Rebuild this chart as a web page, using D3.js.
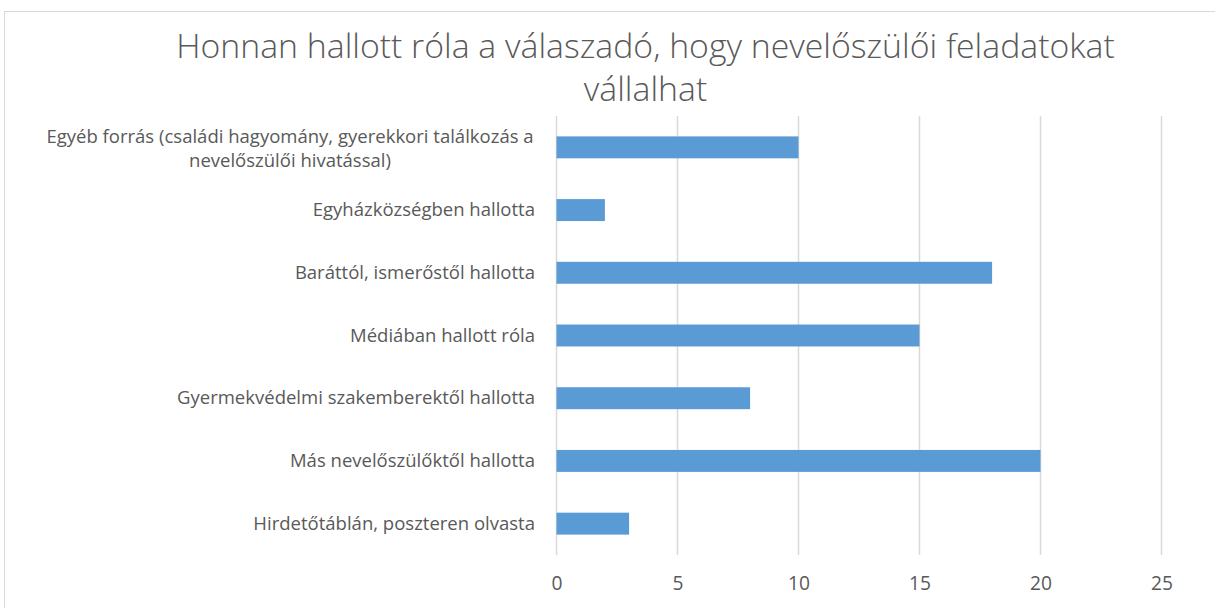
<!DOCTYPE html>
<html><head><meta charset="utf-8">
<script src="https://cdn.jsdelivr.net/npm/d3@7"></script>
<style>body{margin:0;background:#fff;} text{font-family:"Open Sans",sans-serif;fill:#595959;}</style>
</head><body>
<svg id="c" width="1215" height="608"></svg>
<script>
const categories = [
  ["Egyéb forrás (családi hagyomány, gyerekkori találkozás a", "nevelőszülői hivatással)"],
  ["Egyházközségben hallotta"],
  ["Baráttól, ismerőstől hallotta"],
  ["Médiában hallott róla"],
  ["Gyermekvédelmi szakemberektől hallotta"],
  ["Más nevelőszülőktől hallotta"],
  ["Hirdetőtáblán, poszteren olvasta"]
];
const values = [10, 2, 18, 15, 8, 20, 3];
const xTicks = [0, 5, 10, 15, 20, 25];
const titleLines = ["Honnan hallott róla a válaszadó, hogy nevelőszülői feladatokat", "vállalhat"];

const svg = d3.select("#c");
svg.append("rect").attr("x",4.5).attr("y",11.5).attr("width",1250).attr("height",700)
  .attr("fill","#fff").attr("stroke","#d9d9d9");

const x = d3.scaleLinear().domain([0,25]).range([556.5,1161.5]);
const y = d3.scaleBand().domain(d3.range(categories.length)).range([116,555]).paddingInner(0.65).paddingOuter(0.325);

// fit font size to a target width
function fitSize(str, target, weight){
  const t = svg.append("text").attr("font-size",20).attr("font-weight",weight||400).text(str);
  const w = t.node().getComputedTextLength(); t.remove();
  return 20*target/w;
}
const labSize = fitSize("Hirdetőtáblán, poszteren olvasta", 282);
const titleSize = fitSize(titleLines[0], 939, 300);
const tickSize = fitSize("25", 22);

svg.append("g").selectAll("line").data(xTicks).join("line")
  .attr("x1",d=>x(d)).attr("x2",d=>x(d)).attr("y1",116).attr("y2",555)
  .attr("stroke","#d9d9d9").attr("stroke-width",1.5);

svg.append("g").selectAll("rect").data(values).join("rect")
  .attr("x",x(0)).attr("y",(d,i)=>y(i)).attr("width",d=>x(d)-x(0)).attr("height",y.bandwidth())
  .attr("fill","#5b9bd5");

const xa = svg.append("g").attr("transform","translate(0,555)")
  .call(d3.axisBottom(x).tickValues(xTicks).tickSize(0).tickPadding(21));
xa.select(".domain").remove();
xa.selectAll("text").attr("font-size",tickSize).attr("fill","#595959").attr("font-family","Open Sans");

const lab = svg.append("g").selectAll("text").data(categories).join("text").attr("font-size",labSize);
lab.each(function(d,i){
  const t = d3.select(this);
  const cy = y(i)+y.bandwidth()/2;
  if (d.length>1){
    t.attr("text-anchor","middle").attr("transform",`translate(290,${cy-4})`);
    t.append("tspan").attr("x",0).attr("y",0).text(d[0]);
    t.append("tspan").attr("x",0).attr("y",23.5).text(d[1]);
  } else {
    t.attr("text-anchor","end").attr("transform",`translate(535,${cy+6})`).text(d[0]);
  }
});

svg.append("g").selectAll("text").data(titleLines).join("text")
  .attr("x",645.5).attr("y",(d,i)=>58+i*43).attr("text-anchor","middle")
  .attr("font-size",titleSize).attr("font-weight",300).text(d=>d);
</script>
</body></html>
